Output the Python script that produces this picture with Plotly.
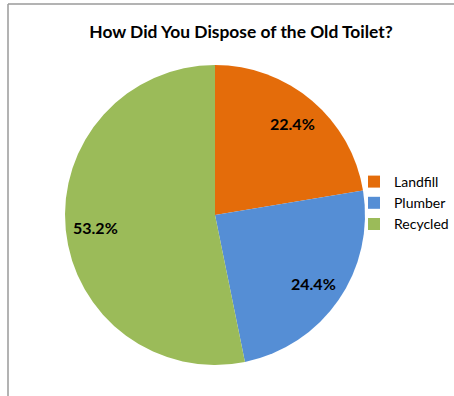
import math
import plotly.graph_objects as go

# Survey: how the old toilet was disposed of
labels = ["Landfill", "Plumber", "Recycled"]
shares = [22.4, 24.4, 53.2]
colors = ["#E46C0A", "#558ED5", "#9BBB59"]

W, H = 454, 396
cx, cy, r = 215, 215, 150  # pie centre and radius in pixels
label_radius = 0.8 * r     # where the percentage labels sit

fig = go.Figure(
    go.Pie(
        labels=labels,
        values=shares,
        sort=False,
        direction="clockwise",
        rotation=0,
        marker=dict(colors=colors, line=dict(width=0)),
        textinfo="none",
        hoverinfo="label+percent",
        domain=dict(x=[(cx - r) / W, (cx + r) / W],
                    y=[(H - cy - r) / H, (H - cy + r) / H]),
    )
)

# percentage labels placed on each slice's bisector, clockwise from 12 o'clock
annotations = []
total = sum(shares)
start = 0.0
for value in shares:
    mid = (start + value / 2) / total * 2 * math.pi
    start += value
    px = cx + label_radius * math.sin(mid)
    py = cy - label_radius * math.cos(mid)
    annotations.append(dict(
        x=px / W, y=1 - py / H, xref="paper", yref="paper",
        text=f"<b>{value:.1f}%</b>", showarrow=False,
        xanchor="center", yanchor="middle",
        font=dict(family="Lato", size=16, color="#000000"),
    ))

fig.update_layout(
    width=W,
    height=H,
    margin=dict(l=0, r=0, t=0, b=0, autoexpand=False),
    paper_bgcolor="#FFFFFF",
    title=dict(
        text="<b>How Did You Dispose of the Old Toilet?</b>",
        x=241 / W,
        xanchor="center",
        y=1 - 32 / H,
        yanchor="middle",
        font=dict(family="Lato", size=17.4, color="#000000"),
    ),
    legend=dict(
        x=354 / W,
        xanchor="left",
        y=1 - 203 / H,
        yanchor="middle",
        font=dict(family="Lato", size=14, color="#000000"),
        bgcolor="rgba(0,0,0,0)",
    ),
    annotations=annotations,
    shapes=[
        # chart frame: top and left edges
        dict(type="line", xref="paper", yref="paper",
             x0=8 / W, x1=1, y0=1 - 4 / H, y1=1 - 4 / H,
             line=dict(color="#9A9A9A", width=1.5)),
        dict(type="line", xref="paper", yref="paper",
             x0=8 / W, x1=8 / W, y0=1 - 4 / H, y1=0,
             line=dict(color="#9A9A9A", width=1.5)),
    ],
)

fig.write_html("out.html")
